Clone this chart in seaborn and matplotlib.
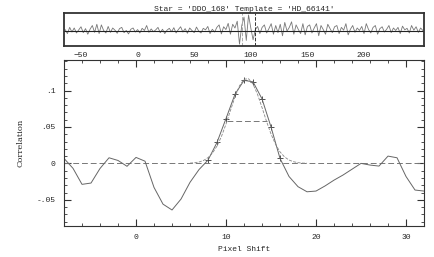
import numpy as np
import pandas as pd
import seaborn as sns
import matplotlib.pyplot as plt
from matplotlib.ticker import MultipleLocator

# === Data ===
title = "Star = 'DDO_168' Template = 'HD_66141'"

# full cross-correlation (top strip), every 2 pixels, in units of 1e-3
top_x = np.arange(-64, 253, 2)
top_y = np.array([
    5, -8, 12, -3, 10, -6, 4, 14, -5, 8,
    -10, 6, 18, -4, 22, -8, 20, 2, -6, 15,
    -4, 10, 3, -7, 8, 12, -5, 2, -9, 6,
    10, -3, 5, -6, 9, 2, 18, -4, 7, -2,
    4, 12, -5, 6, -8, 3, 9, -2, 11, -6,
    5, 14, -3, 8, -7, 10, 2, -5, 13, 0,
    -6, 9, 4, 15, -8, 6, -3, 12, 20, -9,
    14, 5, 25, -10, 22, 10, 32, -42, 18, 45,
    -30, 52, 10, -28, 5, 15, -8, 12, 20, -6,
    8, 24, -10, 18, -5, 22, -15, 28, 0, 12,
    30, -10, 20, 5, -8, 24, -12, 15, 20, -6,
    10, 24, -15, 18, 5, -10, 22, 8, -5, 14,
    18, -8, 12, 3, 24, -12, 6, 18, -4, 10,
    2, 15, -8, 24, 5, -6, 12, 18, -10, 8,
    14, -3, 6, 18, -5, 10, 2, 12, -8, 16,
    4, 9, -6, 18, 3, 14, -4, 10, 2,
]) / 1000.0
top_marks = [92, 104]
top_ticks = [-50, 0, 50, 100, 150, 200]

# zoomed correlation (main panel)
shift = np.arange(-8, 33)
corr = [0.0068, -0.0068, -0.0288, -0.027, -0.007, 0.0077, 0.004, -0.004,
        0.0082, 0.003, -0.033, -0.056, -0.064, -0.049, -0.026, -0.0085,
        0.0045, 0.0288, 0.0616, 0.095, 0.114, 0.112, 0.0886, 0.050,
        0.0068, -0.018, -0.032, -0.039, -0.038, -0.031, -0.023, -0.016,
        -0.008, 0.0, -0.0023, -0.0037, 0.010, 0.0077, -0.018, -0.0366,
        -0.038]
fit_x = np.arange(6, 19.01, 0.5)
fit_y = [0.0004, 0.0009, 0.0019, 0.0040, 0.0079, 0.0142, 0.0238, 0.0372,
         0.0540, 0.0729, 0.0914, 0.1066, 0.1155, 0.1163, 0.1089, 0.0948,
         0.0767, 0.0577, 0.0403, 0.0262, 0.0158, 0.0089, 0.0046, 0.0023,
         0.0010, 0.0004, 0.0002]
fit_pts = np.arange(8, 17)
half_x = [10.1, 14.5]
half_y = 0.0585
yticks = [-0.05, 0, 0.05, 0.1]
yticklabels = ['-.05', '0', '.05', '.1']

df = pd.DataFrame({'shift': shift, 'corr': corr})
df_top = pd.DataFrame({'x': top_x, 'y': top_y})
df_fit = pd.DataFrame({'x': fit_x, 'y': fit_y})
df_pts = df[df['shift'].isin(fit_pts)]

# === Style ===
sns.set_theme(style='white')
plt.rcParams['font.family'] = ['Liberation Mono', 'DejaVu Sans']
plt.rcParams['axes.edgecolor'] = '#333333'
fs = 5.8

fig = plt.figure(figsize=(4.34, 2.57), dpi=100, facecolor='white')
ax_top = fig.add_axes([0.1475, 0.821, 0.8295, 0.128])
ax = fig.add_axes([0.1475, 0.1206, 0.8295, 0.646])

# --- top strip ---
sns.lineplot(data=df_top, x='x', y='y', ax=ax_top, color='#777777', linewidth=0.6)
ax_top.axhline(0, color='#222222', linewidth=0.8)
ax_top.axvline(top_marks[0], color='#aaaaaa', linestyle='--', linewidth=0.7)
ax_top.axvline(top_marks[1], color='#333333', linestyle='--', linewidth=0.7)
ax_top.set_xlim(-65, 253)
ax_top.set_ylim(-0.048, 0.058)
ax_top.set_yticks([])
ax_top.set_xticks(top_ticks)
ax_top.tick_params(axis='x', direction='in', length=0, labelsize=fs, pad=4)
ax_top.set_xlabel('')
ax_top.set_ylabel('')
for s in ax_top.spines.values():
    s.set_linewidth(1.3)
ax_top.set_title(title, fontsize=fs, pad=1.5)

# --- main panel ---
ax.axhline(0, color='#777777', linestyle=(0, (6, 3)), linewidth=0.7)
sns.lineplot(data=df, x='shift', y='corr', ax=ax, color='#666666', linewidth=0.7)
sns.lineplot(data=df_fit, x='x', y='y', ax=ax, color='#888888', linewidth=0.6,
             linestyle='--')
ax.plot(half_x, [half_y, half_y], color='#777777', linestyle=(0, (6, 3)), linewidth=0.7)
sns.scatterplot(data=df_pts, x='shift', y='corr', ax=ax, marker='+', s=18,
                color='#333333', linewidth=0.6)

ax.set_xlim(-8, 32)
ax.set_ylim(-0.086, 0.142)
ax.xaxis.set_major_locator(MultipleLocator(10))
ax.xaxis.set_minor_locator(MultipleLocator(2))
ax.set_yticks(yticks)
ax.set_yticklabels(yticklabels)
ax.yaxis.set_minor_locator(MultipleLocator(0.01))
ax.tick_params(which='both', direction='in', top=True, right=True,
               bottom=True, left=True, labelsize=fs, color='#333333')
ax.tick_params(which='major', length=5, width=0.8, pad=6)
ax.tick_params(which='minor', length=2.5, width=0.6)
for s in ax.spines.values():
    s.set_linewidth(0.8)
ax.set_xlabel('Pixel Shift', fontsize=fs, labelpad=3)
ax.set_ylabel('Correlation', fontsize=6, family='DejaVu Serif', labelpad=9)

plt.savefig('out.png', dpi=100)
